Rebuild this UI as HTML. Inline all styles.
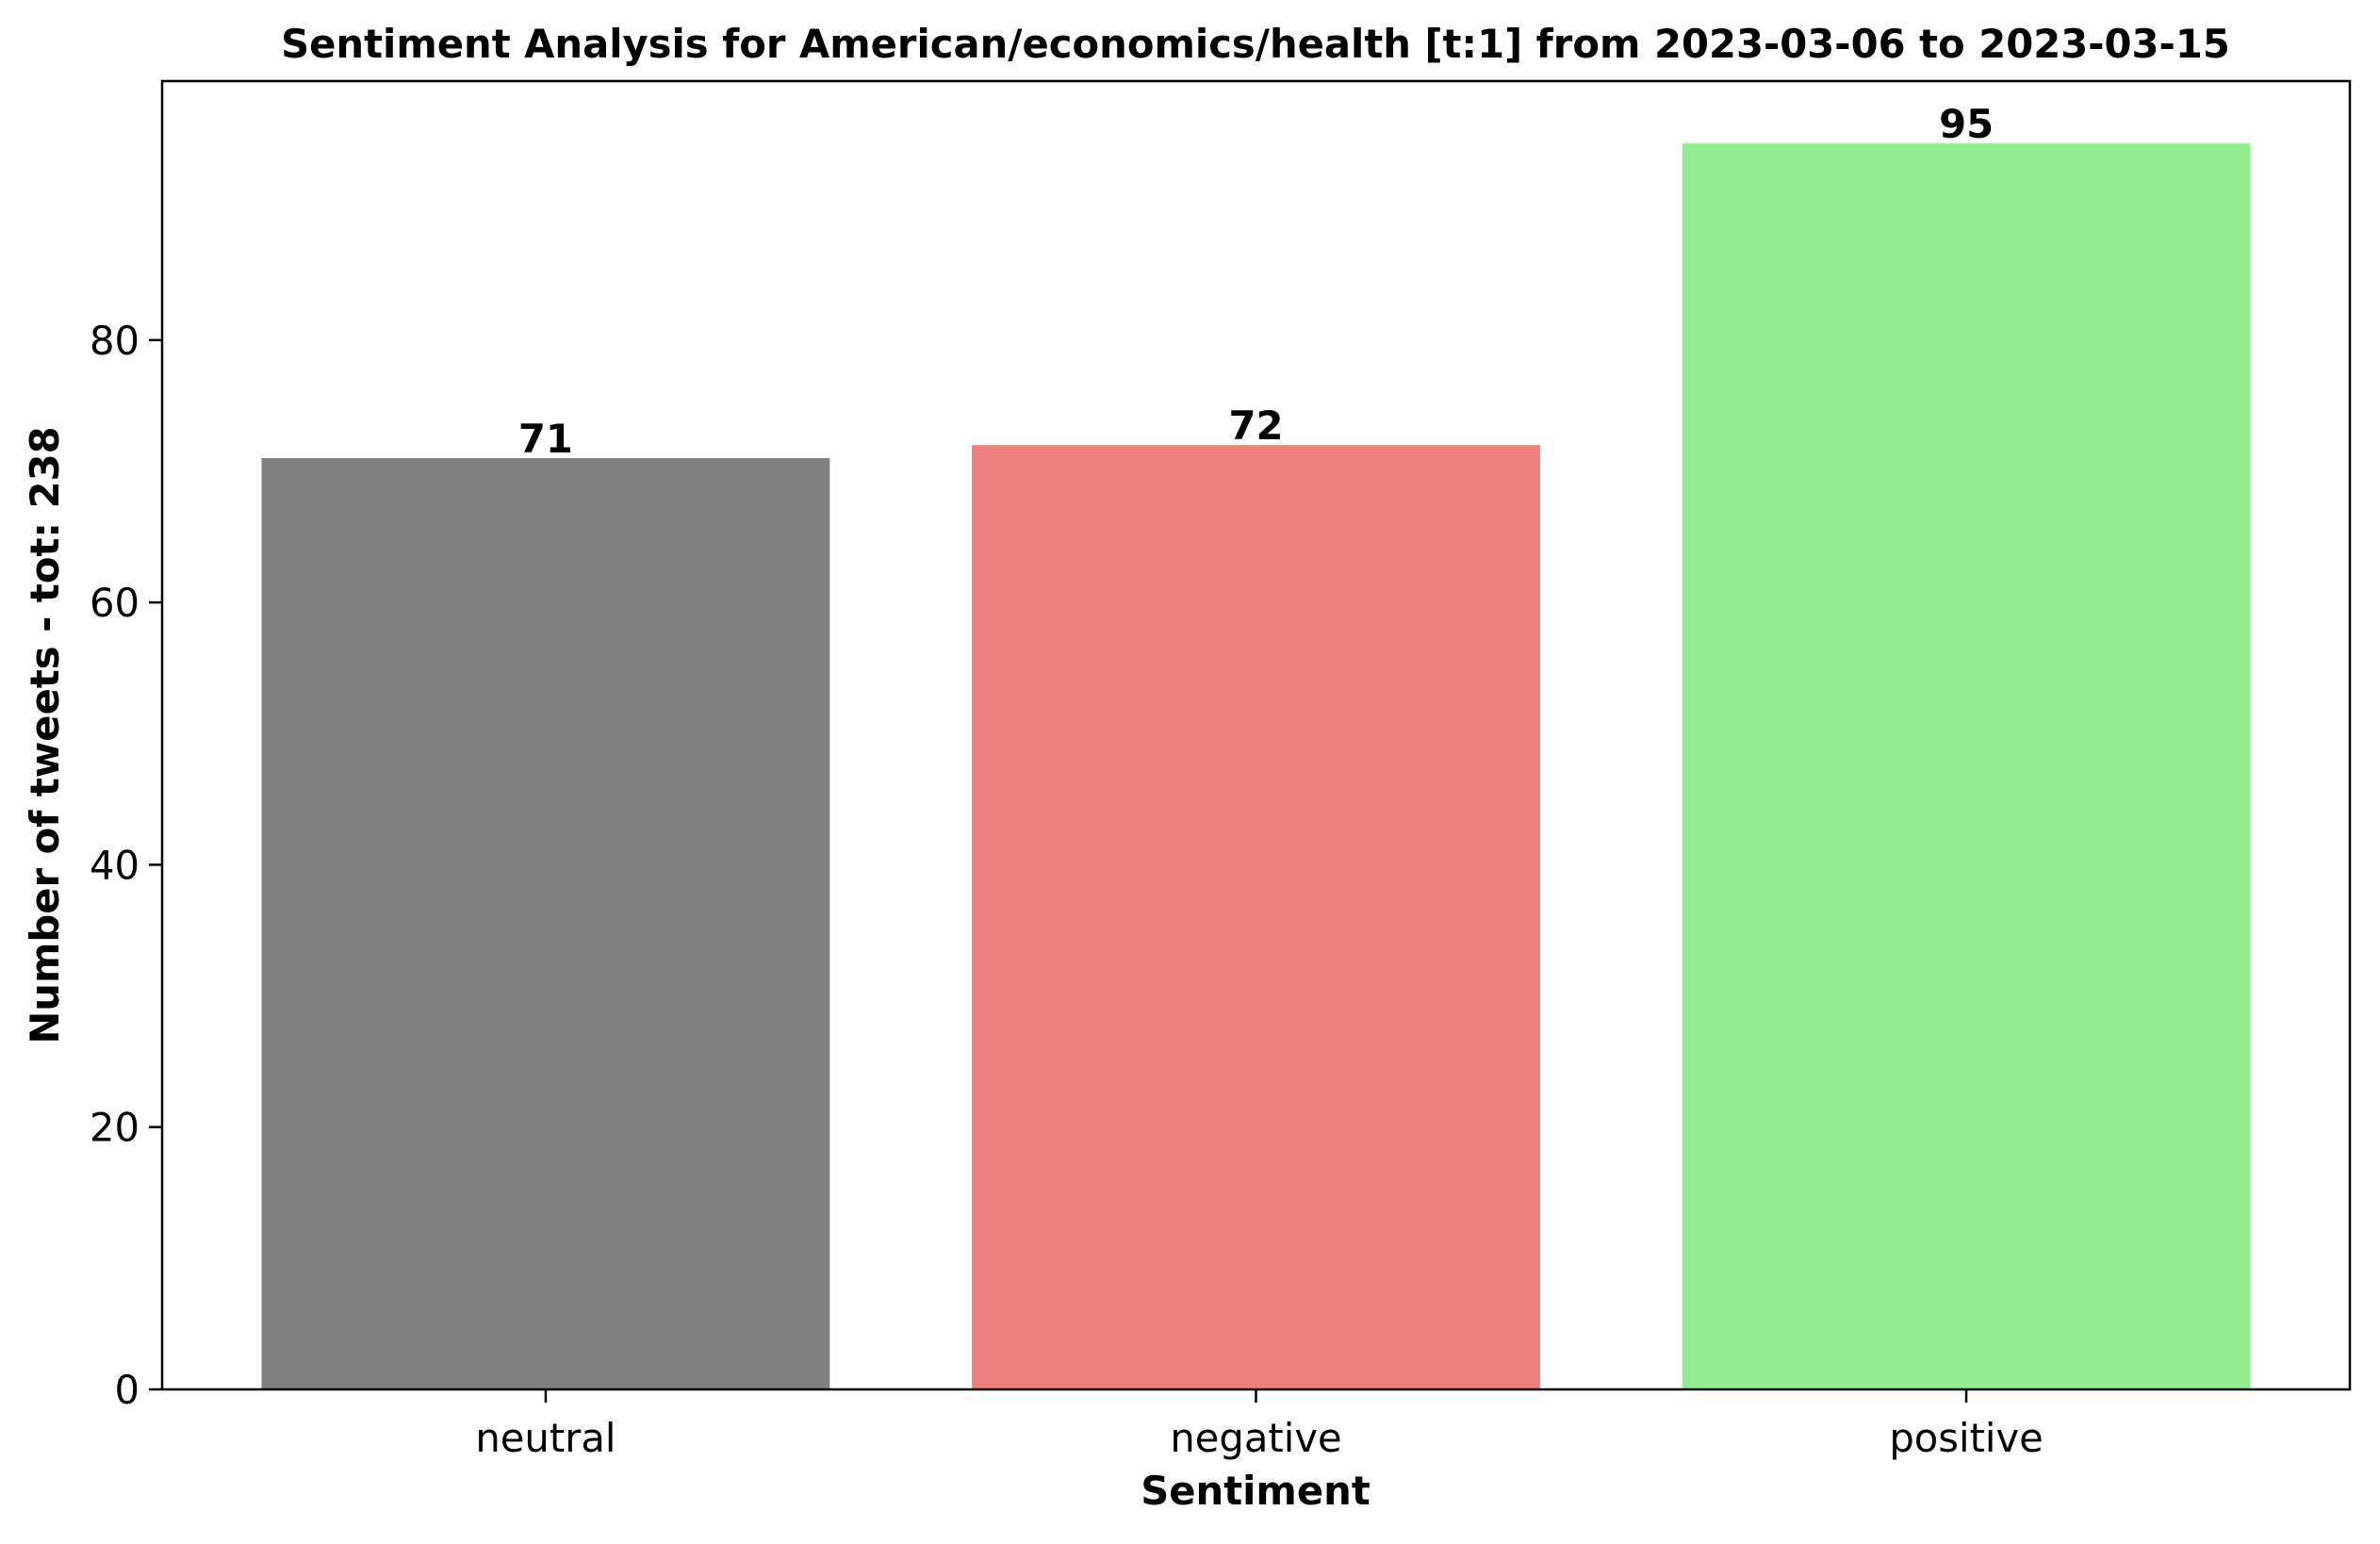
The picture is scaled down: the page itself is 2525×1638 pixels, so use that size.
<!DOCTYPE html>
<html><head><meta charset="utf-8"><style>
html,body{margin:0;padding:0;background:#fff;}
svg text{font-family:"DejaVu Sans","Liberation Sans",sans-serif;}
</style></head><body>
<svg id="chart" width="2525" height="1633" xmlns="http://www.w3.org/2000/svg">
<rect width="2525" height="1633" fill="#fff"/>
<text x="1332" y="61" text-anchor="middle" font-size="41.7" font-weight="bold">Sentiment Analysis for American/economics/health [t:1] from 2023-03-06 to 2023-03-15</text>
<g id="plot"></g>
<text x="1332" y="1596" text-anchor="middle" font-size="41.7" font-weight="bold">Sentiment</text>
<text transform="translate(62,780) rotate(-90)" text-anchor="middle" font-size="41.7" font-weight="bold">Number of tweets - tot: 238</text>
</svg>
<script>
const categories = ["neutral","negative","positive"];
const values = [71,72,95];
const colors = ["#808080","#f08080","#90ee90"];
const yTicks = [0,20,40,60,80];

const L=172,R=2493,T=86,B=1474;
const xMin=-0.54,xMax=2.54,yMax=99.75;
const xs=v=>L+(v-xMin)/(xMax-xMin)*(R-L);
const ys=v=>B-v/yMax*(B-T);
const g=document.getElementById('plot');
const NS="http://www.w3.org/2000/svg";
function mk(tag,attrs,text){const e=document.createElementNS(NS,tag);for(const k in attrs)e.setAttribute(k,attrs[k]);if(text!==undefined)e.textContent=text;g.appendChild(e);return e;}
categories.forEach((c,i)=>{
  const x0=xs(i-0.4),x1=xs(i+0.4);
  const b=mk('rect',{x:x0,y:ys(values[i]),width:x1-x0,height:B-ys(values[i]),fill:colors[i]});
  
  
  const v=mk('text',{x:xs(i),y:ys(values[i])-6,'text-anchor':'middle','font-size':41.7,'font-weight':'bold'},String(values[i]));
  
  
  const t=mk('line',{x1:xs(i),x2:xs(i),y1:B,y2:B+14,stroke:'#000','stroke-width':2.5});
  
  
  const l=mk('text',{x:xs(i),y:B+66,'text-anchor':'middle','font-size':41.7},c);
  
  
});
yTicks.forEach(v=>{
  const t=mk('line',{x1:L-14,x2:L,y1:ys(v),y2:ys(v),stroke:'#000','stroke-width':2.5});
  
  
  const l=mk('text',{x:L-24,y:ys(v)+15,'text-anchor':'end','font-size':41.7},String(v));
  
  
});
const f=mk('rect',{x:L,y:T,width:R-L,height:B-T,fill:'none',stroke:'#000','stroke-width':2.5});


</script>
</body></html>
